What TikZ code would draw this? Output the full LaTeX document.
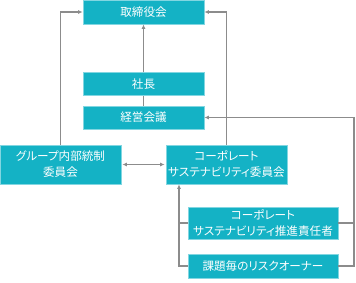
\documentclass[tikz,border=0pt]{standalone}
\usepackage{fontspec}
\usepackage{tikz}
\usetikzlibrary{arrows.meta}
\newfontfamily\jpfont{Noto Sans CJK JP}[RawFeature=+palt]
\definecolor{boxfill}{RGB}{20,178,197}
\definecolor{boxline}{RGB}{130,214,225}
\definecolor{linkgray}{RGB}{140,140,140}
\tikzset{
  orgbox/.style={draw=boxline, line width=0.6pt, fill=boxfill, text=white,
    font=\jpfont\fontsize{11.6}{16}\selectfont, align=center, inner sep=0pt,
    minimum width=121pt, minimum height=24pt},
  link/.style={draw=linkgray, line width=1.1pt},
  arr/.style={link, -{Latex[length=4.5pt,width=4pt]}},
  darr/.style={link, {Latex[length=4.5pt,width=4pt]}-{Latex[length=4.5pt,width=4pt]}, shorten <=1pt, shorten >=1pt}
}
\begin{document}
\begin{tikzpicture}[x=1pt,y=-1pt]
			\useasboundingbox (0,0) rectangle (356,282);
			% boxes
			\node[orgbox] (board) at (143.5,12) {取締役会};
			\node[orgbox, minimum height=23pt] (pres) at (143.5,84) {社長};
			\node[orgbox, minimum height=23pt] (mgmt) at (143.5,117.5) {経営会議};
			\node[orgbox, minimum height=39pt] (group) at (60.5,164.5) {グループ内部統制\\委員会};
			\node[orgbox, minimum height=39pt] (csc) at (226.5,164.5) {コーポレート\\サステナビリティ委員会};
			\node[orgbox, minimum width=150pt, minimum height=32pt] (officer) at (263,223) {コーポレート\\サステナビリティ推進責任者};
			\node[orgbox, minimum width=150pt] (risk) at (263,266) {課題毎のリスクオーナー};
			\coordinate (rt) at (354,118);
			\coordinate (lt) at (179,223);
			% connectors
			\draw[arr] (pres.north) -- (board.south);
			\draw[link] (mgmt.north) -- (pres.south);
			\draw[arr] (group.north) |- (board.west);
			\draw[arr] (csc.north) |- (board.east);
			\draw[darr] (group.east) -- (csc.west);
			\draw[arr] (risk.east) -| (rt) |- (mgmt.east);
			\draw[link] (officer.east) -- (officer.east -| rt);
			\draw[arr] (risk.west) -| (csc.south -| lt);
			\draw[link] (officer.west) -- (officer.west -| lt);
		\end{tikzpicture}
\end{document}
